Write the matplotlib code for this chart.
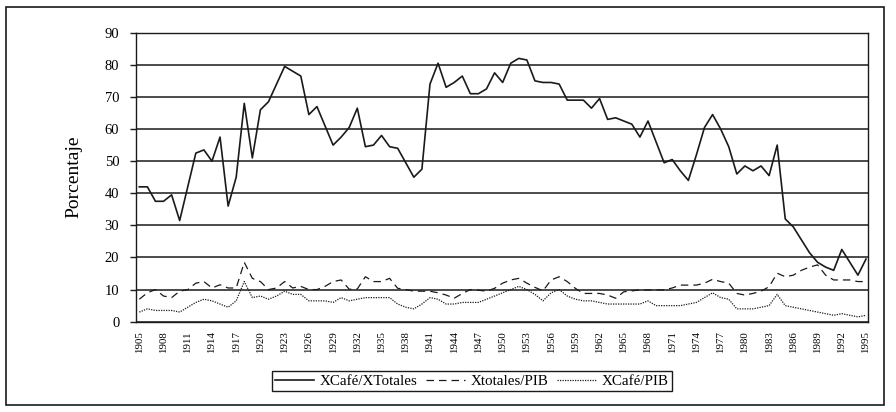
import matplotlib
matplotlib.use("Agg")
import matplotlib.pyplot as plt
from matplotlib.patches import Rectangle
import numpy as np

plt.rcParams['font.family'] = ['Liberation Serif', 'DejaVu Serif']

years = list(range(1905, 1996))

# XCafé / XTotales (%)
cafe_xtot = [42, 42, 37.5, 37.5, 39.5, 31.5, 42, 52.5, 53.5, 50,
             57.5, 36, 45, 68, 51, 66, 68.5, 74, 79.5, 78,
             76.5, 64.5, 67, 61, 55, 57.5, 60.5, 66.5, 54.5, 55,
             58, 54.5, 54, 49.5, 45, 47.5, 74, 80.5, 73, 74.5,
             76.5, 71, 71, 72.5, 77.5, 74.5, 80.5, 82, 81.5, 75,
             74.5, 74.5, 74, 69, 69, 69, 66.5, 69.5, 63, 63.5,
             62.5, 61.5, 57.5, 62.5, 56, 49.5, 50.5, 47, 44, 52,
             60.5, 64.5, 60, 54.5, 46, 48.5, 47, 48.5, 45.5, 55,
             32, 29.5, 25.5, 21.5, 18.5, 17, 16, 22.5, 18.5, 14.5,
             19.5]

# Xtotales / PIB (%)
xtot_pib = [7, 9, 10, 8, 7.5, 9.5, 10, 12, 12.5, 10.5,
            11.5, 10.5, 10.5, 18.5, 13.5, 12.5, 10, 10.5, 12.5, 10.5,
            11, 10, 10, 11, 12.5, 13, 10.1, 10.2, 14, 12.5,
            12.5, 13.5, 10.4, 10, 9.5, 9.5, 9.5, 9, 8.3, 7.3,
            8.8, 10, 9.8, 9.5, 10.4, 12, 13, 13.5, 12, 10.7,
            9.6, 13, 14, 12.5, 10.4, 8.8, 8.8, 8.8, 8.3, 7.3,
            9.3, 9.6, 9.9, 9.9, 9.9, 9.9, 10.5, 11.4, 11.4, 11.4,
            12, 13.2, 12.5, 12, 8.8, 8.3, 8.8, 9.5, 10.9, 15.1,
            14, 14.5, 16, 17, 17.7, 14.5, 13, 13, 13, 12.5,
            12.5]

# XCafé / PIB (%)
cafe_pib = [3, 4, 3.5, 3.5, 3.5, 3, 4.5, 6, 7, 6.5,
            5.5, 4.5, 6.5, 12.5, 7.5, 8, 7, 8, 9.5, 8.5,
            8.5, 6.5, 6.5, 6.5, 6, 7.5, 6.5, 7, 7.5, 7.5,
            7.5, 7.5, 5.5, 4.5, 4, 5.5, 7.5, 7, 5.5, 5.5,
            6, 6, 6, 7, 8, 9, 10, 11, 10, 8.5,
            6.5, 9, 10, 8, 7, 6.5, 6.5, 6, 5.5, 5.5,
            5.5, 5.5, 5.5, 6.5, 5, 5, 5, 5, 5.5, 6,
            7.5, 9, 7.5, 7, 4, 4, 4, 4.5, 5, 8.5,
            5, 4.5, 4, 3.5, 3, 2.5, 2, 2.5, 2, 1.5,
            2]

tick_years = years[::3]

ink = '#1a1a1a'

fig = plt.figure(figsize=(8.96, 4.12), dpi=100)
ax = fig.add_axes([136/896, 1-321.7/412, (868-136)/896, (321.7-32.7)/412])

ax.plot(years, cafe_xtot, color=ink, lw=1.2, label='XCafé/XTotales')
ax.plot(years, xtot_pib, color=ink, lw=0.9, linestyle=(0, (6, 4)), label='Xtotales/PIB')
ax.plot(years, cafe_pib, color=ink, lw=0.9, linestyle=(0, (1, 1)), label='XCafé/PIB')

ax.set_ylim(0, 90)
ax.set_yticks(range(0, 91, 10))
ax.set_xlim(1905 - 3.3/8.07, 1995 + 2/8.07)
ax.set_xticks(tick_years)
ax.set_xticklabels([str(y) for y in tick_years], rotation=90, fontsize=7.8)
ax.tick_params(axis='x', length=0, pad=7)
ax.tick_params(axis='y', length=4, width=1, pad=8, labelsize=10.5, color=ink)
ax.yaxis.grid(True, color=ink, lw=1.1)
ax.set_axisbelow(True)
for s in ax.spines.values():
    s.set_color(ink)
    s.set_linewidth(1.0)

ax.set_ylabel('Porcentaje', fontsize=14, labelpad=16)

leg = fig.legend(loc='center', bbox_to_anchor=(472/896, 1-381/412), ncol=3,
                 fontsize=10.8, frameon=True, fancybox=False, framealpha=1,
                 edgecolor=ink, handlelength=2.6, columnspacing=0.6,
                 handletextpad=0.35, borderpad=0.2, borderaxespad=0)
leg.get_frame().set_linewidth(1.0)

fig.patches.append(Rectangle((6/896, 1-405/412), (884-6)/896, (405-7)/412,
                             transform=fig.transFigure, fill=False,
                             edgecolor=ink, lw=1.2))

fig.savefig('out.png', dpi=100)
